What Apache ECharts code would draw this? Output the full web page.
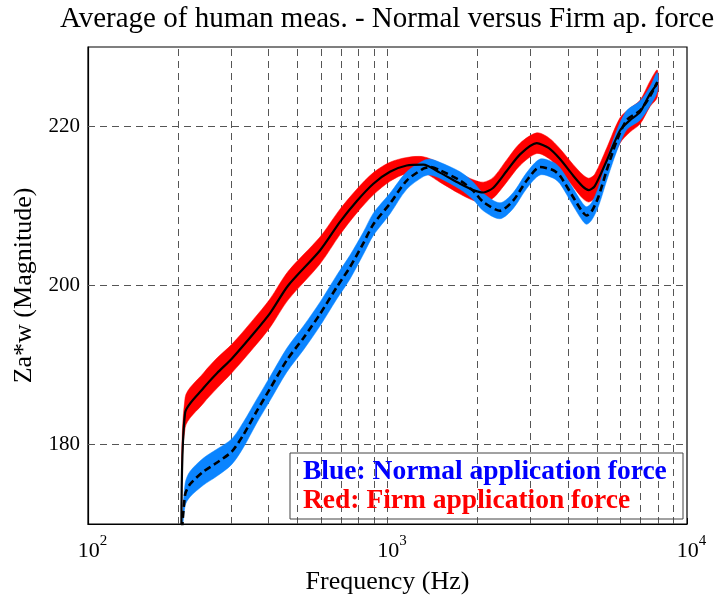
<!DOCTYPE html>
<html>
<head>
<meta charset="utf-8">
<script src="https://cdn.jsdelivr.net/npm/echarts@6/dist/echarts.min.js"></script>
<style>
html,body{margin:0;padding:0;background:#fff;}
#c{width:724px;height:601px;}
</style>
</head>
<body>
<div id="c"></div>
<script>
// Firm application force (red band, solid black mean)
const firmFreq = [205, 211, 243, 270, 302, 356, 405, 466, 595, 694, 789, 897, 1019, 1159, 1317, 1495, 1747, 1934, 2089, 2256, 2500, 2770, 3149, 3450, 3767, 4172, 4500, 4700, 4920, 5394, 5975, 6452, 6966, 7524, 7960];
const firmVal  = [168, 184.0, 187.1, 189.0, 190.8, 193.9, 196.5, 200.0, 204.4, 208.0, 210.6, 212.8, 214.3, 215.1, 215.2, 214.2, 212.8, 212.0, 211.7, 212.3, 214.4, 216.5, 217.9, 217.3, 215.9, 213.8, 212.4, 212.0, 212.5, 215.7, 219.5, 220.8, 221.8, 224.1, 225.4];
const firmHalf = [0.3, 1.9, 1.9, 1.9, 1.8, 1.8, 1.8, 1.8, 1.7, 1.6, 1.5, 1.4, 1.2, 1.0, 1.0, 1.2, 1.3, 1.3, 1.3, 1.3, 1.4, 1.4, 1.3, 1.3, 1.3, 1.4, 1.5, 1.5, 1.5, 1.6, 1.6, 1.5, 1.5, 1.6, 1.7];
// Normal application force (blue band, dashed black mean)
const normFreq = [205, 211, 219, 243, 269, 302, 330, 366, 405, 461, 524, 595, 677, 749, 830, 897, 1019, 1159, 1317, 1387, 1495, 1747, 1934, 2089, 2375, 2630, 2916, 3230, 3578, 3767, 4172, 4450, 4620, 4800, 5055, 5394, 5827, 6291, 6966, 7524, 7960];
const normVal  = [168, 173.7, 175.0, 176.6, 177.7, 179.1, 181.2, 184.2, 187.0, 190.6, 193.4, 196.4, 199.8, 202.3, 205.3, 207.7, 210.3, 213.2, 214.7, 214.9, 214.5, 213.2, 211.9, 210.5, 209.4, 210.7, 213.2, 214.9, 214.5, 213.8, 211.1, 209.4, 208.8, 209.3, 211.1, 214.5, 218.2, 220.8, 222.0, 223.8, 225.6];
const normHalf = [0.3, 1.4, 1.6, 1.7, 1.7, 1.6, 1.6, 1.5, 1.5, 1.5, 1.5, 1.5, 1.5, 1.5, 1.4, 1.4, 1.3, 1.1, 1.0, 1.0, 1.0, 1.1, 1.1, 1.1, 1.0, 1.0, 1.0, 1.0, 1.0, 1.0, 1.1, 1.1, 1.1, 1.1, 1.2, 1.3, 1.3, 1.2, 1.2, 1.2, 1.2];
// Axes
const yTicks = [180, 200, 220];
const xGrid = [200, 300, 400, 500, 600, 700, 800, 900, 1000, 2000, 3000, 4000, 5000, 6000, 7000, 8000, 9000];
const titleText = 'Average of human meas. - Normal versus Firm ap. force';
const xName = 'Frequency (Hz)';
const yName = 'Za*w (Magnitude)';
const legendBlue = 'Blue: Normal application force';
const legendRed = 'Red: Firm application force';

const pair = (xs, ys) => xs.map((x, i) => [x, ys[i]]);
const FONT = 'Liberation Serif';
const SM = 0.25;

// Band drawn as a polygon between (value - half) and (value + half), via the chart's own scales
function band(name, xs, ys, hs, color, z) {
  return {
    type: 'custom', name: name, z: z, clip: true, silent: true,
    data: [[xs[0], ys[0]]],
    renderItem: function (params, api) {
      const up = xs.map((x, i) => api.coord([x, ys[i] + hs[i]]));
      const lo = xs.map((x, i) => api.coord([x, ys[i] - hs[i]])).reverse();
      const cs = params.coordSys;
      return {
        type: 'polygon',
        shape: {points: up.concat(lo), smooth: 0.3},
        style: {fill: color, stroke: color, lineWidth: 0.5},
        clipPath: {type: 'rect', shape: {x: cs.x, y: cs.y, width: cs.width, height: cs.height}}
      };
    }
  };
}

const chart = echarts.init(document.getElementById('c'), null, {renderer: 'canvas'});
chart.setOption({
  animation: false,
  backgroundColor: '#fff',
  textStyle: {fontFamily: FONT},
  grid: {left: 88, right: 37, top: 47, bottom: 77, show: true, borderColor: '#000', borderWidth: 1.2, backgroundColor: 'transparent'},
  xAxis: {
    type: 'log', logBase: 10, min: 100, max: 10000,
    name: xName, nameLocation: 'middle', nameGap: 45,
    nameTextStyle: {fontFamily: FONT, fontSize: 26, color: '#000'},
    axisLine: {show: true, lineStyle: {color: '#000', width: 1.2}},
    axisTick: {show: true, inside: true, length: 6, lineStyle: {color: '#000'}},
    splitLine: {show: false},
    axisLabel: {
      margin: 10, color: '#000',
      formatter: v => '{b|10}{s|' + Math.round(Math.log10(v)) + '}',
      rich: {
        b: {fontFamily: FONT, fontSize: 22, color: '#000', padding: [0, 0, 0, 9]},
        s: {fontFamily: FONT, fontSize: 15, color: '#000', padding: [0, 0, 20, 0]}
      }
    }
  },
  yAxis: {
    type: 'value', min: 170, max: 230,
    name: yName, nameLocation: 'middle', nameGap: 41, nameRotate: 90,
    nameTextStyle: {fontFamily: FONT, fontSize: 26, color: '#000'},
    axisLine: {show: true, lineStyle: {color: '#000', width: 1.2}},
    axisTick: {show: true, inside: true, length: 6, customValues: yTicks, lineStyle: {color: '#000'}},
    axisLabel: {customValues: yTicks, fontFamily: FONT, fontSize: 21, color: '#000', margin: 8},
    splitLine: {show: false}
  },
  graphic: [
    {type: 'text', style: {text: titleText, x: 387, y: 19, textAlign: 'center', textVerticalAlign: 'middle', font: '29px "Liberation Serif"', fill: '#000'}},
    {type: 'rect', shape: {x: 290, y: 453, width: 393, height: 66}, style: {fill: 'rgba(0,0,0,0)', stroke: '#444', lineWidth: 1}, z: 10},
    {type: 'text', style: {text: legendBlue, x: 303, y: 472, textVerticalAlign: 'middle', font: 'bold 27.5px "Liberation Serif"', fill: '#0000ff'}, z: 10},
    {type: 'text', style: {text: legendRed, x: 303, y: 501, textVerticalAlign: 'middle', font: 'bold 27.5px "Liberation Serif"', fill: '#ff0000'}, z: 10}
  ],
  series: [
    {
      type: 'line', name: 'grid', data: [], z: 1,
      markLine: {
        silent: true, symbol: 'none', z: 1, animation: false,
        label: {show: false},
        lineStyle: {type: [7, 5], color: '#555', width: 1},
        data: xGrid.map(v => ({xAxis: v})).concat(yTicks.map(v => ({yAxis: v})))
      }
    },
    band('firmBand', firmFreq, firmVal, firmHalf, '#ff0000', 2),
    band('normBand', normFreq, normVal, normHalf, '#0a84ff', 3),
    {
      type: 'line', name: 'firmMean', data: pair(firmFreq, firmVal), showSymbol: false, smooth: SM,
      lineStyle: {color: '#000', width: 2.2}, z: 4, clip: true
    },
    {
      type: 'line', name: 'normMean', data: pair(normFreq, normVal), showSymbol: false, smooth: SM,
      lineStyle: {color: '#000', width: 2.6, type: [7, 4]}, z: 5, clip: true
    }
  ]
});
</script>
</body>
</html>
